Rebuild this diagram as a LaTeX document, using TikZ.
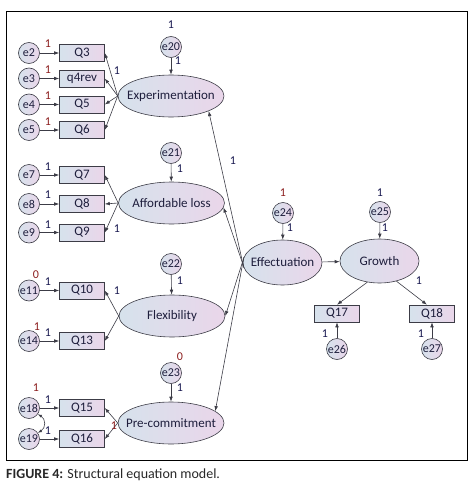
\documentclass[tikz,border=0pt]{standalone}
\usepackage{fontspec}
\setmainfont{Carlito}
\usetikzlibrary{shapes.geometric,arrows.meta}
\newcommand\fsz[1]{\fontsize{#1}{#1}\selectfont}
\definecolor{lblue}{RGB}{214,226,236}
\definecolor{lpink}{RGB}{234,214,234}
\definecolor{linec}{RGB}{60,60,70}
\definecolor{txt}{RGB}{30,30,60}
\definecolor{navy}{RGB}{25,25,80}
\definecolor{dred}{RGB}{140,30,30}
\definecolor{capc}{RGB}{40,40,40}
\tikzset{
  lat/.style={ellipse, draw=linec, line width=0.6pt, left color=lblue, right color=lpink, minimum width=106pt, minimum height=42pt, inner xsep=-20pt, inner ysep=0pt, font=\fsz{13}, text=txt},
  obs/.style={rectangle, draw=linec, line width=0.6pt, left color=lblue, right color=lpink, minimum width=45pt, minimum height=17pt, inner sep=0pt, font=\fsz{13}, text=txt},
  err/.style={circle, draw=linec, line width=0.6pt, left color=lblue, right color=lpink, minimum size=21pt, inner sep=0pt, font=\fsz{12}, text=txt},
  arr/.style={-{Latex[length=5pt,width=3.6pt]}, draw=linec, line width=0.6pt},
  dbl/.style={{Latex[length=4pt,width=3pt]}-{Latex[length=4pt,width=3pt]}, draw=linec, line width=0.6pt},
  wt/.style={font=\fsz{12}, text=navy, inner sep=0pt},
  vr/.style={font=\fsz{12}, text=dred, inner sep=0pt}
}
\begin{document}
\begin{tikzpicture}[x=1pt,y=-1pt]
\useasboundingbox (0,0) rectangle (474,495);
\draw[line width=0.8pt] (6,11) rectangle (467,460);

% Experimentation block
\node[obs] (Q3) at (82,53) {Q3};
\node[obs] (Q4) at (82,78.5) {q4rev};
\node[obs] (Q5) at (82,104.5) {Q5};
\node[obs] (Q6) at (82,130) {Q6};
\node[err] (e2) at (29,53) {e2};
\node[err] (e3) at (29,78.5) {e3};
\node[err] (e4) at (29,104.5) {e4};
\node[err] (e5) at (29,130) {e5};
\node[lat] (Exp) at (171,96) {Experimentation};
\node[err] (e20) at (171,47) {e20};

% Affordable loss block
\node[obs] (Q7) at (82,175) {Q7};
\node[obs] (Q8) at (82,204) {Q8};
\node[obs] (Q9) at (82,232.5) {Q9};
\node[err] (e7) at (29,175) {e7};
\node[err] (e8) at (29,204) {e8};
\node[err] (e9) at (29,232.5) {e9};
\node[lat] (AL) at (171.5,203) {Affordable loss};
\node[err] (e21) at (171,153) {e21};

% Flexibility block
\node[obs] (Q10) at (82,290.5) {Q10};
\node[obs] (Q13) at (82,341) {Q13};
\node[err] (e11) at (29,290.5) {e11};
\node[err] (e14) at (29,341) {e14};
\node[lat] (Flex) at (172,316) {Flexibility};
\node[err] (e22) at (171,264) {e22};

% Pre-commitment block
\node[obs] (Q15) at (82,408) {Q15};
\node[obs] (Q16) at (82,439) {Q16};
\node[err] (e18) at (29,408) {e18};
\node[err] (e19) at (29,439) {e19};
\node[lat] (Pre) at (171,423) {Pre-commitment};
\node[err] (e23) at (171,373) {e23};

% Right part
\node[lat, minimum width=79pt, minimum height=45pt] (Eff) at (282.5,262.5) {Effectuation};
\node[err] (e24) at (283,213) {e24};
\node[lat, minimum width=79pt, minimum height=44pt] (Gro) at (379.5,261) {Growth};
\node[err] (e25) at (380,212) {e25};
\node[obs] (Q17) at (337,313.5) {Q17};
\node[obs] (Q18) at (432,313.5) {Q18};
\node[err] (e26) at (337,349) {e26};
\node[err] (e27) at (432,349) {e27};

% error -> indicator arrows
\foreach \e/\q in {e2/Q3,e3/Q4,e4/Q5,e5/Q6,e7/Q7,e8/Q8,e9/Q9,e11/Q10,e14/Q13,e18/Q15,e19/Q16}
  \draw[arr] (\e) -- (\q);
% latent -> indicators
\foreach \q in {Q3,Q4,Q5,Q6} \draw[arr] (Exp.west) -- (\q.east);
\foreach \q in {Q7,Q8,Q9} \draw[arr] (AL.west) -- (\q.east);
\foreach \q in {Q10,Q13} \draw[arr] (Flex.west) -- (\q.east);
\foreach \q in {Q15,Q16} \draw[arr] (Pre.west) -- (\q.east);
% disturbances
\draw[arr] (e20) -- (Exp);
\draw[arr] (e21) -- (AL);
\draw[arr] (e22) -- (Flex);
\draw[arr] (e23) -- (Pre);
\draw[arr] (e24) -- (Eff);
\draw[arr] (e25) -- (Gro);
\draw[arr] (e26) -- (Q17);
\draw[arr] (e27) -- (Q18);
% structural paths
\draw[arr] (Eff.188) -- (Exp.south east);
\draw[arr] (Eff.182) -- (AL.-5);
\draw[arr] (Eff.178) -- (Flex.east);
\draw[arr] (Eff.172) -- (Pre.15);
\draw[arr] (Eff) -- (Gro);
\draw[arr] (Gro.-120) -- (Q17.north);
\draw[arr] (Gro.-50) -- (Q18.120);
% covariance
\draw[dbl] (e18.-35) .. controls (46,419) and (46,428) .. (e19.35);

% labels: error -> indicator
\node[vr] (l1) at (48,44) {1};
\node[vr] (l2) at (48,70) {1};
\node[vr] (l3) at (48,96) {1};
\node[vr] (l4) at (48,122) {1};
\node[wt] (l5) at (48,167) {1};
\node[wt] (l6) at (48,195) {1};
\node[wt] (l7) at (48,225) {1};
\node[wt] (l8) at (48,282) {1};
\node[wt] (l9) at (48,333) {1};
\node[wt] (l10) at (48,400) {1};
\node[wt] (l11) at (48,431) {1};
% variances
\node[vr] (v11) at (36,275) {0};
\node[vr] (v14) at (37,327) {1};
\node[vr] (v18) at (36,388) {1};
\node[wt] (v20) at (171,25) {1};
\node[vr] (v23) at (180,357) {0};
\node[vr] (v24) at (283,193) {1};
\node[wt] (v25) at (380,193) {1};
% loadings
\node[wt] (m1) at (117,71) {1};
\node[wt] (m2) at (117,229) {1};
\node[wt] (m3) at (117,291) {1};
\node[vr] (m4) at (114,426) {1};
% disturbance weights
\node[wt] (d20) at (178,61) {1};
\node[wt] (d21) at (180,169) {1};
\node[wt] (d22) at (180,281) {1};
\node[wt] (d23) at (180,388) {1};
\node[wt] (d24) at (290,228) {1};
\node[wt] (d25) at (385,228) {1};
\node[wt] (s1) at (233,161) {1};
\node[wt] (s2) at (419,281) {1};
\node[wt] (d26) at (325,334) {1};
\node[wt] (d27) at (421,334) {1};

% caption
\node[anchor=west, font=\fsz{14}, text=capc, inner sep=0pt] (cap) at (6,475) {\textbf{FIGURE 4:} Structural equation model.};
\end{tikzpicture}
\end{document}
